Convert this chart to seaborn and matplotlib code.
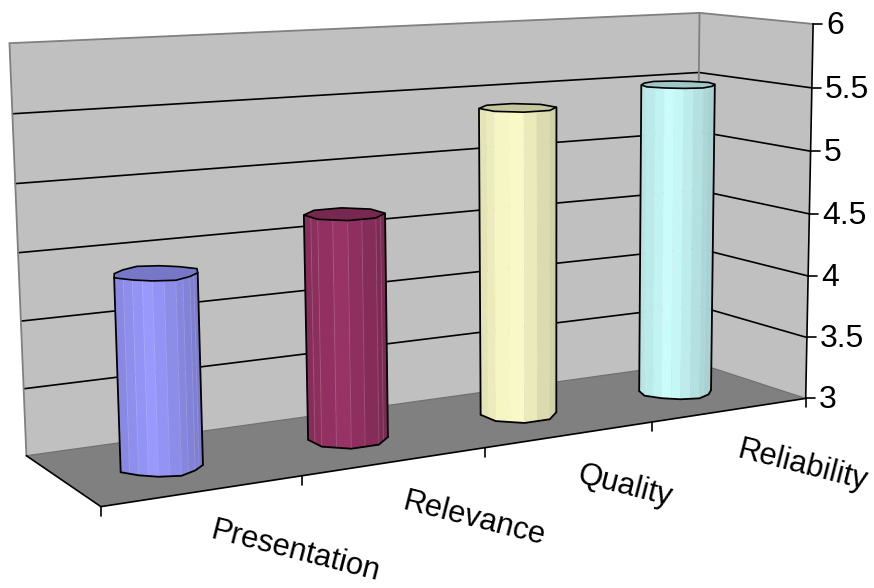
import numpy as np
import pandas as pd
import matplotlib
matplotlib.use("Agg")
import matplotlib.pyplot as plt
import seaborn as sns

categories = ["Presentation", "Relevance", "Quality", "Reliability"]
scores = [4.4, 4.7, 5.4, 5.5]
base_colors = ["#9999FF", "#993366", "#FFFFCC", "#CCFFFF"]
value_ticks = [3, 3.5, 4, 4.5, 5, 5.5, 6]
value_labels = ["3", "3.5", "4", "4.5", "5", "5.5", "6"]

# Box corners (category position, depth, value) and where the camera puts them
box_corners = np.array([
    (0, 0, 3), (4, 0, 3), (4, 1, 3), (0, 1, 3),
    (0, 1, 6), (4, 1, 6), (4, 0, 6),
    (0, 1, 5.5), (0, 1, 4), (4, 0, 5.5), (4, 1, 5.5), (4, 0, 4.5),
], float)
screen_corners = np.array([
    (101, 508), (803, 397), (698, 364), (26, 455),
    (10, 43.5), (698, 13), (814, 24),
    (12, 114), (21, 320), (813, 88), (698, 72), (810, 214),
], float)


def fit_camera(world, screen):
    rows = []
    for (X, Y, Z), (x, y) in zip(world, screen):
        rows.append([X, Y, Z, 1, 0, 0, 0, 0, -x * X, -x * Y, -x * Z, -x])
        rows.append([0, 0, 0, 0, X, Y, Z, 1, -y * X, -y * Y, -y * Z, -y])
    return np.linalg.svd(np.array(rows))[2][-1].reshape(3, 4)


camera = fit_camera(box_corners, screen_corners)


def project(u, d, z):
    u, d, z = np.broadcast_arrays(u, d, z)
    h = camera @ np.vstack([u.ravel(), d.ravel(), z.ravel(), np.ones(u.size)])
    return h[0] / h[2], h[1] / h[2]


sns.set_theme(style="white")
plt.rcParams["font.family"] = ["Liberation Sans", "DejaVu Sans"]
palette = sns.color_palette(base_colors)

fig = plt.figure(figsize=(8.74, 5.88), dpi=100)
ax = fig.add_axes([0, 0, 1, 1])


def face(us, ds, zs, color, **kw):
    x, y = project(us, ds, zs)
    ax.fill(x, y, color=color, **kw)


# Walls and floor
WALL, EDGE, FLOOR = "#C0C0C0", "#808080", "#808080"
face([0, 4, 4, 0], [1, 1, 1, 1], [3, 3, 6, 6], WALL, lw=0, zorder=1)
face([4, 4, 4, 4], [1, 0, 0, 1], [3, 3, 6, 6], WALL, lw=0, zorder=1)
face([0, 4, 4, 0], [0, 0, 1, 1], [3, 3, 3, 3], FLOOR, lw=0, zorder=1)

# Gridlines run along the back wall and then forward along the side wall
grid_rows = []
for v in value_ticks[1:-1]:
    for u, d in [(0, 1), (4, 1), (4, 0)]:
        x, y = project(u, d, v)
        grid_rows.append({"x": float(x[0]), "y": float(y[0]), "level": v})
sns.lineplot(data=pd.DataFrame(grid_rows), x="x", y="y", units="level",
             estimator=None, sort=False, color="black", lw=1.2, ax=ax,
             legend=False, zorder=2)

for path in ([(0, 1, 3), (0, 1, 6), (4, 1, 6), (4, 0, 6)], [(4, 1, 3), (4, 1, 6)]):
    x, y = project(*np.array(path, float).T)
    ax.plot(x, y, color=EDGE, lw=1.3, zorder=2, solid_joinstyle="miter")
x, y = project(*np.array([(0, 1, 3), (4, 1, 3), (4, 0, 3)], float).T)
ax.plot(x, y, color="#707070", lw=0.9, zorder=2)

# Axis lines, ticks and labels
x, y = project(*np.array([(0, 1, 3), (0, 0, 3), (4, 0, 3), (4, 0, 6)], float).T)
ax.plot(x, y, color="black", lw=1.2, zorder=3, solid_joinstyle="miter")
for v, lab in zip(value_ticks, value_labels):
    x, y = project(4, 0, v)
    ax.plot([x[0], x[0] + 9], [y[0], y[0]], color="black", lw=1.2, zorder=3)
    ax.text(x[0] + 13, y[0] + 2, lab, fontsize=23, ha="left", va="center",
            color="black")
for i in range(len(categories) + 1):
    x, y = project(i, 0, 3)
    ax.plot([x[0], x[0]], [y[0], y[0] + 9], color="black", lw=1.2, zorder=3)
for i, lab in enumerate(categories):
    x, y = project(i + 0.5, 0, 3)
    ax.text(x[0] + 6, y[0] + 47.5, lab, fontsize=22.2, rotation=-14.3,
            rotation_mode="anchor", ha="left", va="baseline", color="black")

# Cylinders: a coarse outline, subdivided into narrow facets for the shading
RADIUS_U, RADIUS_D, DEPTH = 0.2, 0.2, 0.5
outline_sides = [12, 8, 8, 12]
outline_phase = [0.05, 0.39, 0.39, 0.05]
outline_wobble = [0.07, 0.0, 0.0, 0.05]
SUB = 2


def ring(sides, phase, wobble):
    th = np.linspace(0, 2 * np.pi, sides, endpoint=False) + phase
    rad = 1 + wobble * np.cos(4 * (th - np.pi / 2))
    cu, cd = rad * np.cos(th), rad * np.sin(th)
    t = np.linspace(0, 1, SUB, endpoint=False)
    ru = np.concatenate([cu[k] + t * (cu[(k + 1) % sides] - cu[k]) for k in range(sides)])
    rd = np.concatenate([cd[k] + t * (cd[(k + 1) % sides] - cd[k]) for k in range(sides)])
    return ru * RADIUS_U, rd * RADIUS_D


for i, (value, col) in enumerate(zip(scores, palette)):
    ru, rd = ring(outline_sides[i], outline_phase[i], outline_wobble[i])
    us, ds = i + 0.5 + ru, DEPTH + rd
    bx, by = project(us, ds, 3.0)
    tx, ty = project(us, ds, value)
    n = len(us)
    left = np.argmin(bx)
    right = np.argmax(bx)
    # Walk the ring from the left extreme to the right along the near side
    step = 1 if by[(left + 1) % n] > by[(left - 1) % n] else -1
    seq = [left]
    while seq[-1] != right:
        seq.append((seq[-1] + step) % n)
    x0 = (bx[left] + tx[left]) / 2
    x1 = (bx[right] + tx[right]) / 2
    for a, b in zip(seq[:-1], seq[1:]):
        t = ((bx[a] + bx[b] + tx[a] + tx[b]) / 4 - x0) / (x1 - x0)
        shade = np.interp(t, [0, 0.42, 1], [0.88, 1.0, 0.8])
        fc = tuple(np.array(col) * shade)
        ax.fill([bx[a], bx[b], tx[b], tx[a]], [by[a], by[b], ty[b], ty[a]],
                color=fc, lw=0.3, zorder=4)
        ax.plot([bx[a], tx[a]], [by[a], ty[a]], color="white", alpha=0.14, lw=0.7, zorder=5)
    # Silhouette and top cap
    ax.plot(bx[seq], by[seq], color="black", lw=1.3, zorder=6)
    ax.plot([bx[left], tx[left]], [by[left], ty[left]], color="black", lw=1.3, zorder=6)
    ax.plot([bx[right], tx[right]], [by[right], ty[right]], color="black", lw=1.3, zorder=6)
    ax.fill(tx, ty, facecolor=tuple(np.array(col) * 0.78), edgecolor="black", lw=1.2, zorder=7)

ax.set_xlim(0, 874)
ax.set_ylim(588, 0)
ax.axis("off")
fig.savefig("out.png", dpi=100, facecolor="white")
